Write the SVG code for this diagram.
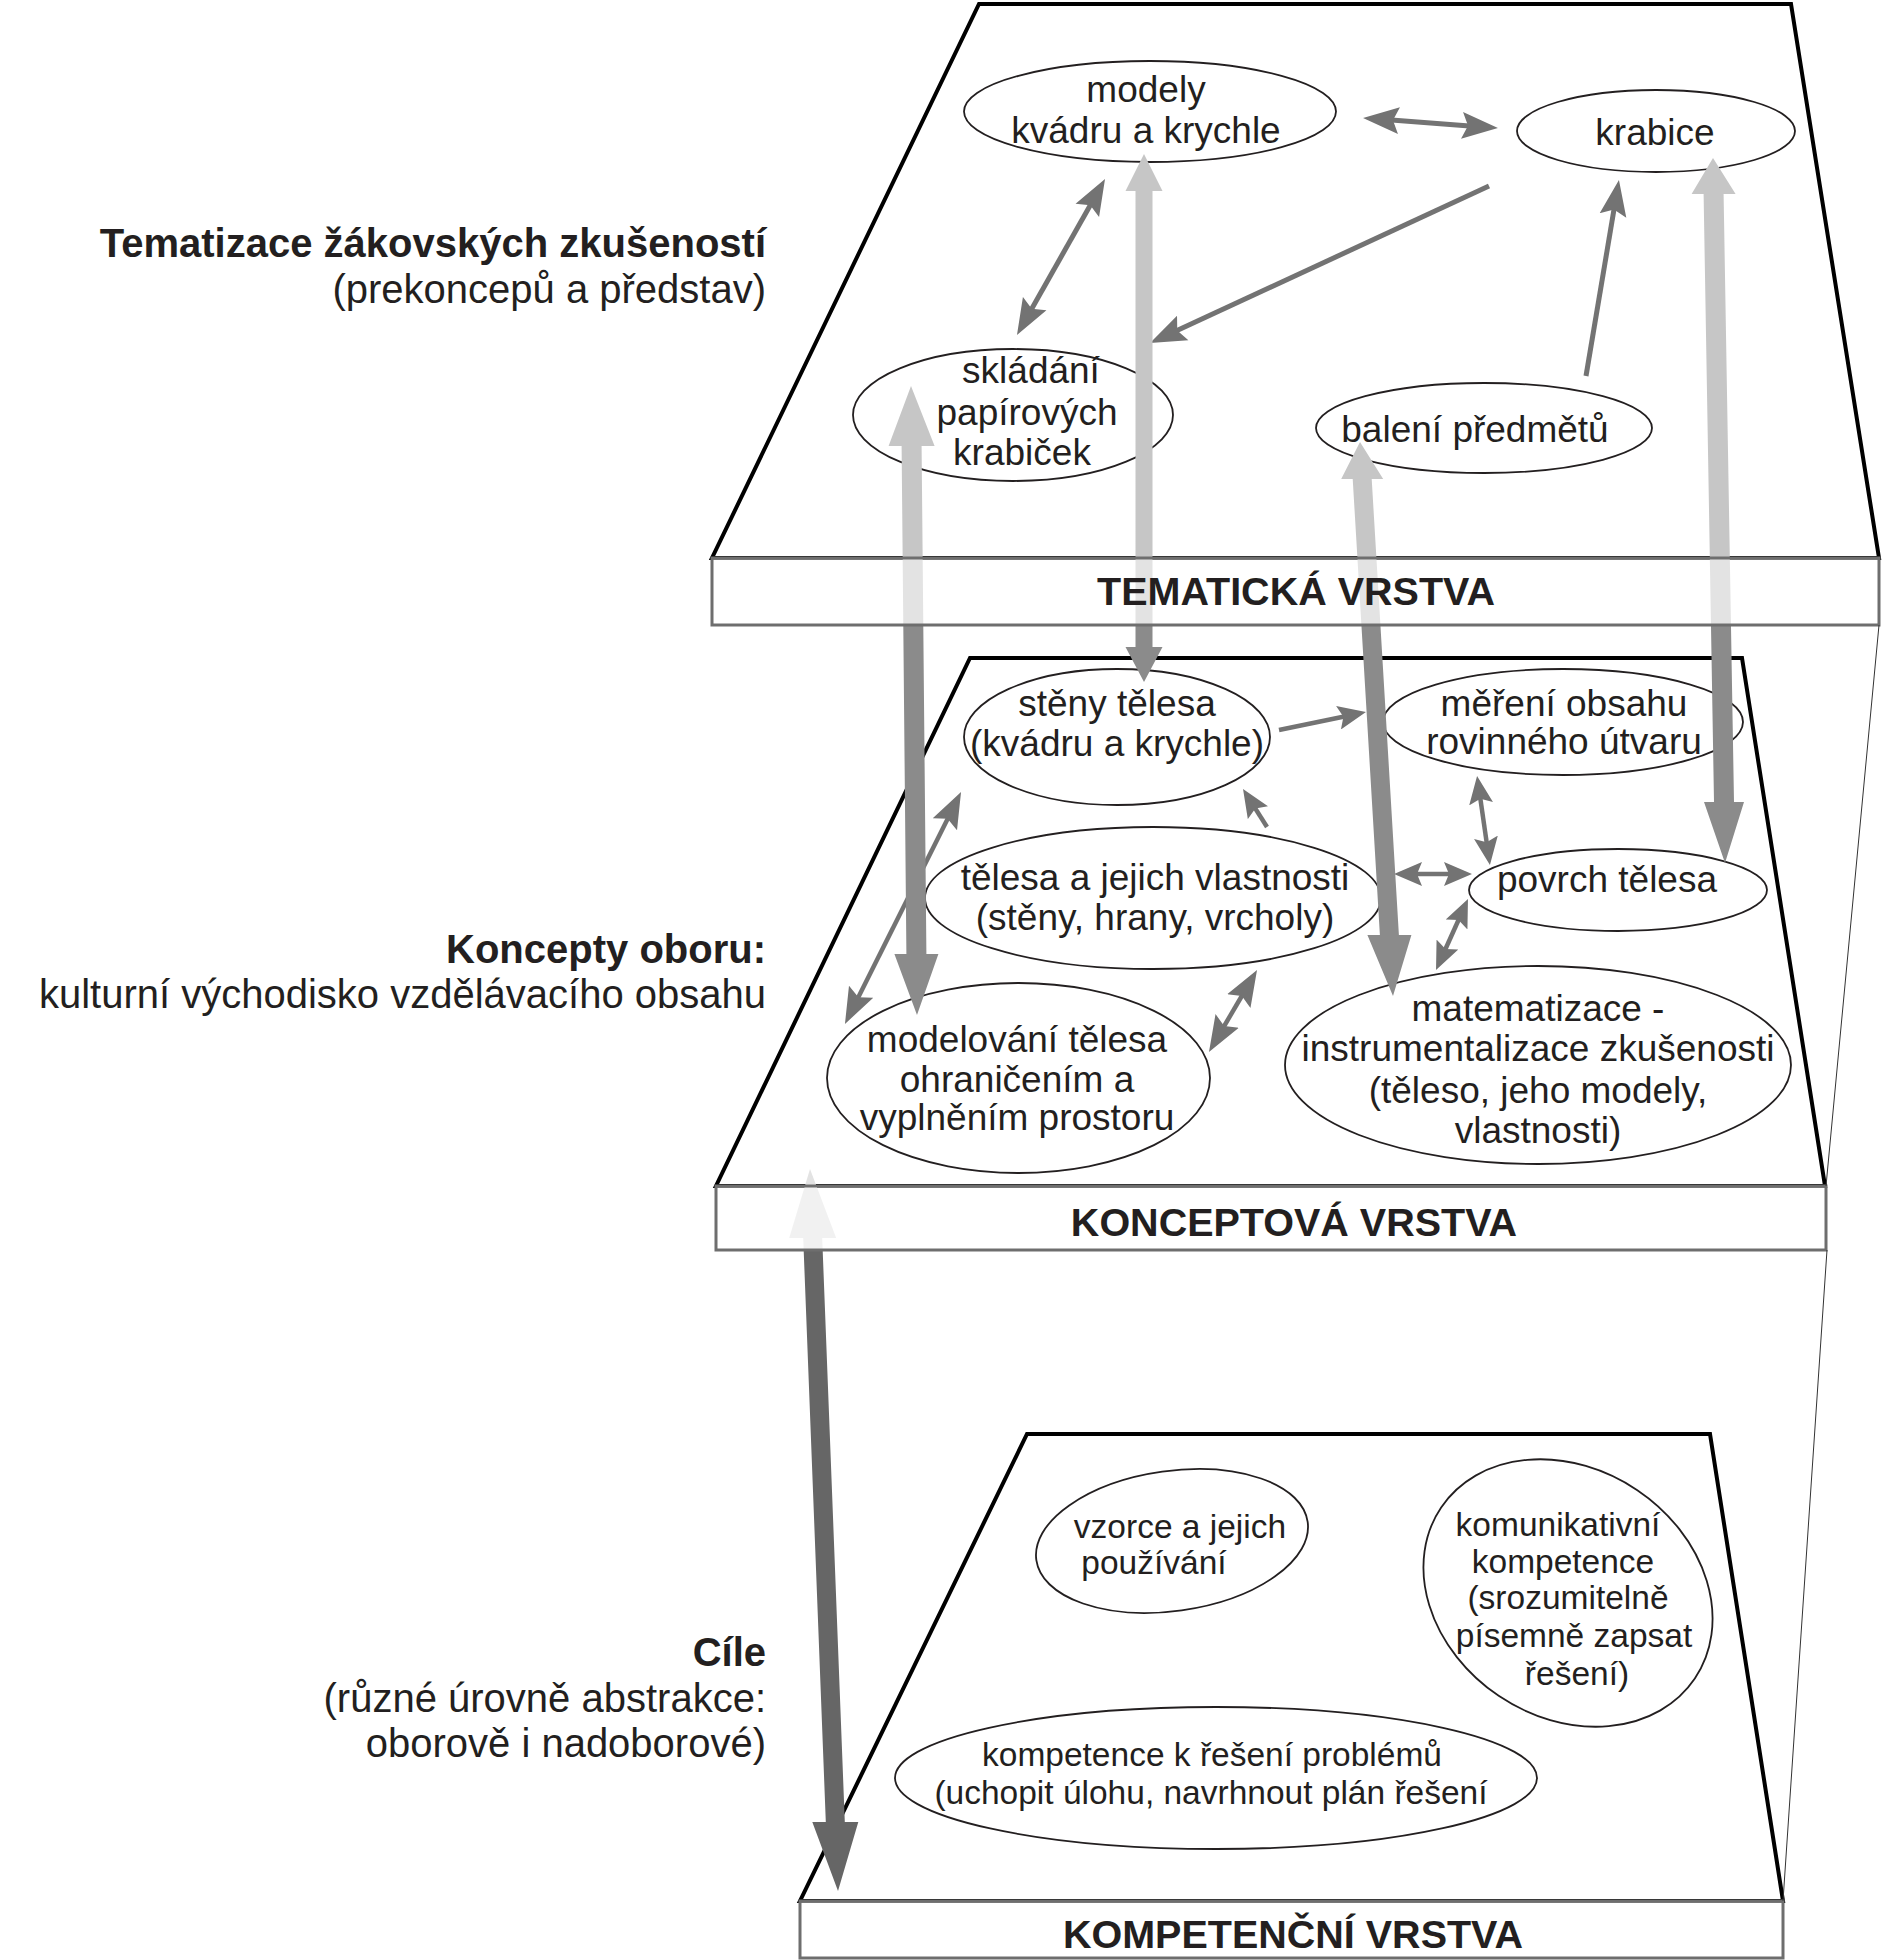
<svg xmlns="http://www.w3.org/2000/svg" width="1883" height="1960" viewBox="0 0 1883 1960">
<style>
.plane{fill:#fff;stroke:#000;stroke-width:4;stroke-linejoin:miter}
.band{fill:#fff;fill-opacity:0.5;stroke:#6e6e6e;stroke-width:3}
.node ellipse{fill:#fff;stroke:#231f20;stroke-width:1.8}
.t{font-family:"Liberation Sans",Arial,Helvetica,sans-serif;fill:#231f20;text-anchor:middle}
.f37{font-size:37px}
.f33{font-size:33.5px}
.lbl{font-family:"Liberation Sans",Arial,Helvetica,sans-serif;fill:#231f20;font-size:40px;text-anchor:end}
.b{font-weight:bold}
.bandtxt{font-family:"Liberation Sans",Arial,Helvetica,sans-serif;fill:#231f20;font-size:39.5px;font-weight:bold;text-anchor:middle}
.thinL{stroke:#737373;stroke-width:5;fill:none}
.thinS{stroke:#737373;stroke-width:4.5;fill:none}
.edge{stroke:#333;stroke-width:1;fill:none}
</style>
<defs>
<marker id="hL" viewBox="-36 -14 36 28" refX="-22" refY="0" markerWidth="36" markerHeight="28" markerUnits="userSpaceOnUse" orient="auto-start-reverse"><path d="M0,0 L-36,-13.5 L-30,0 L-36,13.5 Z" fill="#737373"/></marker>
<marker id="hS" viewBox="-28 -12 28 24" refX="-17" refY="0" markerWidth="28" markerHeight="24" markerUnits="userSpaceOnUse" orient="auto-start-reverse"><path d="M0,0 L-28,-12 L-23,0 L-28,12 Z" fill="#737373"/></marker>
<linearGradient id="gTop" gradientUnits="userSpaceOnUse" x1="0" y1="0" x2="0" y2="1960">
<stop offset="0" stop-color="#c6c6c6"/><stop offset="0.3189" stop-color="#c6c6c6"/><stop offset="0.3189" stop-color="#8b8b8b"/><stop offset="1" stop-color="#8b8b8b"/>
</linearGradient>
<linearGradient id="gBot" gradientUnits="userSpaceOnUse" x1="0" y1="0" x2="0" y2="1960">
<stop offset="0" stop-color="#e3e3e3"/><stop offset="0.6383" stop-color="#e3e3e3"/><stop offset="0.6383" stop-color="#666"/><stop offset="1" stop-color="#666"/>
</linearGradient>
</defs>
<rect width="1883" height="1960" fill="#fff"/>

<g id="planes">
<polygon class="plane" points="979,4 1791,4 1879,558 712,558"/>
<polygon class="plane" points="970,658 1742,658 1825,1186 716,1186"/>
<polygon class="plane" points="1027,1434 1710,1434 1783,1901 800,1901"/>
</g>

<g id="node-modely" class="node">
<ellipse cx="1150" cy="111.5" rx="186" ry="50.5"/>
<text class="t f37" x="1146" y="102">modely</text>
<text class="t f37" x="1146" y="143">kvádru a krychle</text>
</g>
<g id="node-krabice" class="node">
<ellipse cx="1656" cy="131" rx="139" ry="41"/>
<text class="t f37" x="1655" y="145">krabice</text>
</g>
<g id="node-skladani" class="node">
<ellipse cx="1013" cy="415" rx="160" ry="66"/>
<text class="t f37" x="1031" y="383">skládání</text>
<text class="t f37" x="1027" y="425">papírových</text>
<text class="t f37" x="1022" y="465">krabiček</text>
</g>
<g id="node-baleni" class="node">
<ellipse cx="1484" cy="428" rx="168" ry="45"/>
<text class="t f37" x="1475" y="442">balení předmětů</text>
</g>
<g id="node-steny" class="node">
<ellipse cx="1117" cy="737" rx="153" ry="68"/>
<text class="t f37" x="1117" y="716">stěny tělesa</text>
<text class="t f37" x="1117" y="756">(kvádru a krychle)</text>
</g>
<g id="node-mereni" class="node">
<ellipse cx="1563" cy="722" rx="180" ry="53"/>
<text class="t f37" x="1564" y="716">měření obsahu</text>
<text class="t f37" x="1564" y="754">rovinného útvaru</text>
</g>
<g id="node-telesa" class="node">
<ellipse cx="1153" cy="898" rx="228" ry="71"/>
<text class="t f37" x="1155" y="890">tělesa a jejich vlastnosti</text>
<text class="t f37" x="1155" y="930">(stěny, hrany, vrcholy)</text>
</g>
<g id="node-povrch" class="node">
<ellipse cx="1618" cy="890" rx="149" ry="41"/>
<text class="t f37" x="1607" y="892">povrch tělesa</text>
</g>
<g id="node-modelovani" class="node">
<ellipse cx="1018.5" cy="1078" rx="191.5" ry="95"/>
<text class="t f37" x="1017" y="1052">modelování tělesa</text>
<text class="t f37" x="1017" y="1092">ohraničením a</text>
<text class="t f37" x="1017" y="1130">vyplněním prostoru</text>
</g>
<g id="node-matematizace" class="node">
<ellipse cx="1538" cy="1065" rx="253" ry="99"/>
<text class="t f37" x="1538" y="1021">matematizace -</text>
<text class="t f37" x="1538" y="1061">instrumentalizace zkušenosti</text>
<text class="t f37" x="1538" y="1103">(těleso, jeho modely,</text>
<text class="t f37" x="1538" y="1143">vlastnosti)</text>
</g>
<g id="node-vzorce" class="node">
<ellipse cx="1172" cy="1541" rx="137" ry="70" transform="rotate(-8 1172 1541)"/>
<text class="t f33" x="1180" y="1538">vzorce a jejich</text>
<text class="t f33" x="1154" y="1574">používání</text>
</g>
<g id="node-komunikativni" class="node">
<ellipse cx="1568" cy="1593" rx="153" ry="124" transform="rotate(34 1568 1593)"/>
<text class="t f33" x="1558" y="1536">komunikativní</text>
<text class="t f33" x="1563" y="1573">kompetence</text>
<text class="t f33" x="1568" y="1609">(srozumitelně</text>
<text class="t f33" x="1574" y="1647">písemně zapsat</text>
<text class="t f33" x="1577" y="1685">řešení)</text>
</g>
<g id="node-kompetence" class="node">
<ellipse cx="1216" cy="1778" rx="321" ry="71"/>
<text class="t f33" x="1212" y="1766">kompetence k řešení problémů</text>
<text class="t f33" x="1211" y="1804">(uchopit úlohu, navrhnout plán řešení</text>
</g>

<g id="connectors">
<path class="thinL" d="M1385,119.6 L1476,126.4" marker-start="url(#hL)" marker-end="url(#hL)"/>
<path class="thinL" d="M1094.2,198.2 L1027.8,315.8" marker-start="url(#hL)" marker-end="url(#hL)"/>
<path class="thinL" d="M1489,186 L1170,333.8" marker-end="url(#hL)"/>
<path class="thinL" d="M1586,376 L1615.3,201.7" marker-end="url(#hL)"/>
<path class="thinS" d="M1279,730 L1349.3,715.5" marker-end="url(#hS)"/>
<path class="thinS" d="M1267,827 L1252.1,803.4" marker-end="url(#hS)"/>
<path class="thinS" d="M1479.5,792.8 L1487.5,848.2" marker-start="url(#hS)" marker-end="url(#hS)"/>
<path class="thinS" d="M1411,874 L1455,874" marker-start="url(#hS)" marker-end="url(#hS)"/>
<path class="thinS" d="M1461,914.5 L1443,954.5" marker-start="url(#hS)" marker-end="url(#hS)"/>
<path class="thinS" d="M1245.9,989 L1220.1,1033" marker-start="url(#hL)" marker-end="url(#hL)"/>
<path class="thinS" d="M951.2,811.7 L854.8,1004.3" marker-start="url(#hL)" marker-end="url(#hL)"/>
<polygon fill="url(#gTop)" points="1144,154 1162.5,191 1152.5,191 1152.5,647 1162.5,647 1144,682 1125.5,647 1135.5,647 1135.5,191 1125.5,191"/>
<polygon fill="url(#gTop)" points="911,386 934.6,446 921.6,446 926.4,954 938.4,954 917,1015 894.4,954 906.4,954 901.6,446 888.6,446"/>
<polygon fill="url(#gTop)" points="1360,442 1383.2,479 1371.7,479 1398.9,935 1411.4,935 1393,996 1367.4,935 1379.9,935 1352.7,479 1341.2,479"/>
<polygon fill="url(#gTop)" points="1713,158 1735.6,194 1723.6,194 1734,802 1744,802 1725,863 1704,802 1714,802 1703.6,194 1691.6,194"/>
<polygon fill="url(#gBot)" points="810,1169 836.2,1238 822.2,1238 844.8,1822 858.3,1822 838,1891 812.3,1822 825.8,1822 803.2,1238 789.2,1238"/>
</g>

<g id="bands">
<rect class="band" x="712" y="558" width="1167" height="67"/>
<rect class="band" x="716" y="1186" width="1110" height="64"/>
<rect class="band" x="800" y="1901" width="983" height="57"/>
<text class="bandtxt" x="1296" y="605">TEMATICKÁ VRSTVA</text>
<text class="bandtxt" x="1294" y="1236">KONCEPTOVÁ VRSTVA</text>
<text class="bandtxt" x="1293" y="1948">KOMPETENČNÍ VRSTVA</text>
<path class="edge" d="M1879,625 L1826,1186"/>
<path class="edge" d="M1827,1250 L1783,1901"/>
</g>

<g id="labels">
<text class="lbl b" x="766" y="257">Tematizace žákovských zkušeností</text>
<text class="lbl" x="766" y="303">(prekoncepů a představ)</text>
<text class="lbl b" x="766" y="963">Koncepty oboru:</text>
<text class="lbl" x="766" y="1008">kulturní východisko vzdělávacího obsahu</text>
<text class="lbl b" x="766" y="1666">Cíle</text>
<text class="lbl" x="766" y="1712">(různé úrovně abstrakce:</text>
<text class="lbl" x="766" y="1757">oborově i nadoborové)</text>
</g>
</svg>
